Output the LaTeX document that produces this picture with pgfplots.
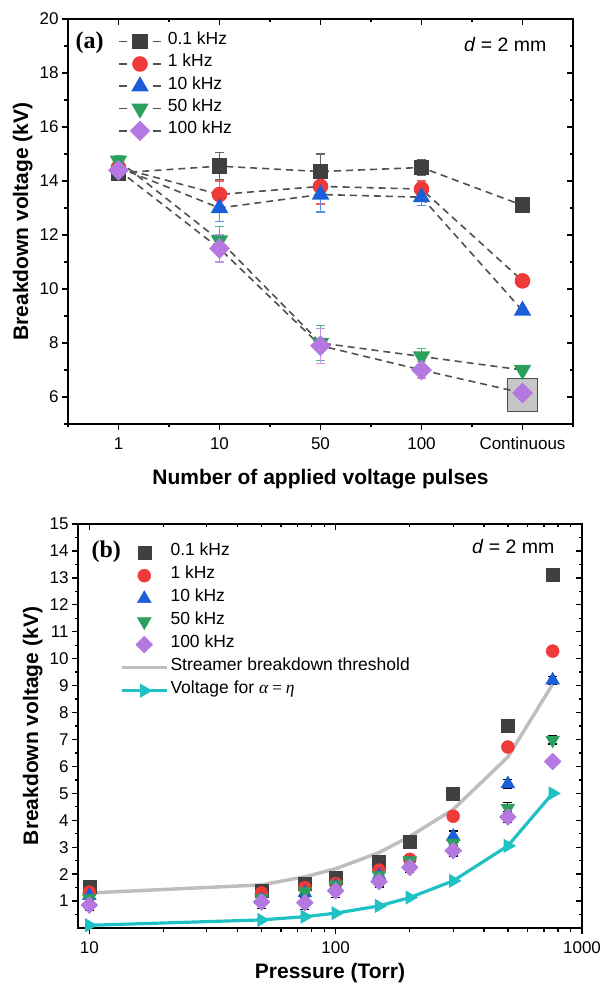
\documentclass[border=0pt]{standalone}
\usepackage{pgfplots}
\pgfplotsset{compat=1.18}
\usepackage{fontspec}
\setmainfont{Liberation Sans}
\newfontfamily\serifb{Liberation Serif}
\definecolor{sqc}{HTML}{404040}
\definecolor{redc}{HTML}{F03A3A}
\definecolor{bluec}{HTML}{1B5FD8}
\definecolor{greenc}{HTML}{2BA05E}
\definecolor{purplec}{HTML}{B478E0}
\definecolor{cyanc}{HTML}{1FC1C4}
\definecolor{streamc}{HTML}{BEBEBE}
\definecolor{dashc}{HTML}{505050}
\pgfplotsset{
  common/.style={scale only axis, clip=false,
    axis line style={line width=1.6pt},
    tick style={black, line width=1.3pt},
    major tick length=6pt, minor tick length=3.5pt,
    ticklabel style={font=\fontsize{17}{20}\selectfont},
    xticklabel style={yshift=-4pt},
    /pgf/number format/assume math mode=true,
    /pgf/number format/1000 sep={},
    label style={font=\bfseries\fontsize{21}{24}\selectfont}},
  aticks/.style={xmin=-0.5, xmax=4.5, ymin=5, ymax=20,
    xtick={0,1,2,3,4}, minor xtick={-0.5,0.5,1.5,2.5,3.5,4.5},
    ytick={6,8,...,20}, minor ytick={5,7,...,19}},
  bticks/.style={xmin=9, xmax=1000, ymin=0, ymax=15,
    xtick={10,100,1000}, log ticks with fixed point,
    ytick={1,2,...,15}, minor ytick={0.5,1.5,...,14.5}},
  dline/.style={draw=dashc, line width=1.6pt, dash pattern=on 7pt off 5pt},
  ebar/.style={error bars/.cd, y dir=both, y explicit,
    error bar style={solid, line width=1.2pt, #1},
    error mark options={solid, rotate=90, mark size=4.5pt, line width=1.2pt, #1}},
}
\begin{document}
\begin{tikzpicture}[x=1pt,y=1pt]
\useasboundingbox (0pt,0pt) rectangle (604pt,990pt);
% ---------------- Panel (a) ----------------
\begin{axis}[common, aticks, at={(68pt,566pt)}, anchor=south west,
  width=505pt, height=405pt,
  xtick pos=left, ytick pos=left, tick align=outside,
  xticklabels={1,10,50,100,Continuous},
  xlabel={Number of applied voltage pulses},
  xlabel style={yshift=-12pt},
  ylabel={Breakdown voltage (kV)},
  legend style={at={(0.099,0.972)}, anchor=north west, draw=none, fill=none,
    inner sep=0pt, row sep=0pt, column sep=6pt,
    font=\fontsize{17.5}{20}\selectfont,
    nodes={inner sep=0pt, text height=14pt, text depth=8.3pt}},
  legend cell align=left,
  legend image code/.code={\draw[mark repeat=2, mark phase=2, dash pattern=on 8pt off 26pt] plot coordinates {(0pt,0pt)(21pt,0pt)(42pt,0pt)};}
]
\draw[fill=gray!45, draw=gray!60!black, line width=0.8pt] (axis cs:3.855,5.45) rectangle (axis cs:4.145,6.7);
\addplot[dline, mark=square*, mark size=7pt, mark options={solid, fill=sqc, draw=sqc}, ebar=sqc!80]
  table[x=x, y=y, y error=e] {
x y e
0 14.3 0.2
1 14.55 0.5
2 14.35 0.65
3 14.5 0.3
4 13.1 0.15
};
\addlegendentry{0.1 kHz}
\addplot[dline, mark=*, mark size=7pt, mark options={solid, fill=redc, draw=redc}, ebar=redc!80]
  table[x=x, y=y, y error=e] {
x y e
0 14.5 0.2
1 13.5 0.5
2 13.8 0.65
3 13.7 0.3
4 10.3 0.1
};
\addlegendentry{1 kHz}
\addplot[dline, mark=triangle*, mark size=8.5pt, mark options={solid, fill=bluec, draw=bluec}, ebar=bluec!70]
  table[x=x, y=y, y error=e] {
x y e
0 14.5 0.2
1 13.0 0.5
2 13.5 0.65
3 13.4 0.3
4 9.2 0.1
};
\addlegendentry{10 kHz}
\addplot[dline, mark=triangle*, mark size=8.5pt, mark options={solid, rotate=180, fill=greenc, draw=greenc}, ebar=greenc!80]
  table[x=x, y=y, y error=e] {
x y e
0 14.75 0.2
1 11.8 0.5
2 8.0 0.65
3 7.5 0.3
4 7.0 0.1
};
\addlegendentry{50 kHz}
\addplot[dline, mark=square*, mark size=6.5pt, mark options={solid, rotate=45, fill=purplec, draw=purplec}, ebar=purplec!80]
  table[x=x, y=y, y error=e] {
x y e
0 14.4 0.2
1 11.5 0.5
2 7.9 0.65
3 7.0 0.3
4 6.15 0.1
};
\addlegendentry{100 kHz}
\end{axis}
\begin{axis}[common, aticks, at={(68pt,566pt)}, anchor=south west,
  width=505pt, height=405pt,
  xtick pos=right, ytick pos=right, tick align=inside,
  xticklabels={}, yticklabels={}, axis line style={draw=none}]
\addplot[draw=none, forget plot] coordinates {(0,10)};
\end{axis}
\node[anchor=west, font=\serifb\bfseries\fontsize{24}{26}\selectfont] at (72pt,947pt) {(a)};
\node[anchor=east, font=\fontsize{19.5}{22}\selectfont] at (550pt,945pt) {\textit{d} = 2 mm};
% ---------------- Panel (b) ----------------
\begin{axis}[xmode=log, common, bticks, at={(78pt,62pt)}, anchor=south west,
  width=504pt, height=404pt,
  xtick pos=left, ytick pos=left, tick align=outside,
  xlabel={Pressure (Torr)},
  xlabel style={yshift=-3pt},
  ylabel={Breakdown voltage (kV)},
  legend style={at={(0.083,0.958)}, anchor=north west, draw=none, fill=none,
    inner sep=0pt, row sep=0pt, column sep=2pt,
    font=\fontsize{17.5}{20}\selectfont,
    nodes={inner sep=0pt, text height=14.5pt, text depth=8.5pt}},
  legend cell align=left,
  legend image code/.code={\draw[mark repeat=2, mark phase=2] plot coordinates {(0pt,0pt)(22.5pt,0pt)(45pt,0pt)};}
]
\addplot[only marks, mark=square*, mark size=6.5pt, mark options={fill=sqc, draw=sqc}, ebar=black]
  table[x=x, y=y, y error=e] {
x y e
10 1.55 0.15
50 1.38 0.2
75 1.65 0.2
100 1.85 0.15
150 2.45 0.15
200 3.2 0.15
300 5.0 0.15
500 7.5 0.12
760 13.1 0.2
};
\addlegendentry{0.1 kHz}
\addplot[only marks, mark=*, mark size=6.5pt, mark options={fill=redc, draw=redc}, ebar=black]
  table[x=x, y=y, y error=e] {
x y e
10 1.33 0.15
50 1.3 0.2
75 1.5 0.2
100 1.65 0.15
150 2.15 0.2
200 2.55 0.15
300 4.15 0.15
500 6.72 0.12
760 10.28 0.15
};
\addlegendentry{1 kHz}
\addplot[only marks, mark=triangle*, mark size=8pt, mark options={fill=bluec, draw=bluec}, ebar=black]
  table[x=x, y=y, y error=e] {
x y e
10 1.2 0.2
50 1.05 0.2
75 1.3 0.25
100 1.55 0.2
150 1.95 0.25
200 2.4 0.2
300 3.4 0.2
500 5.35 0.15
760 9.2 0.15
};
\addlegendentry{10 kHz}
\addplot[only marks, mark=triangle*, mark size=8pt, mark options={rotate=180, fill=greenc, draw=greenc}, ebar=black]
  table[x=x, y=y, y error=e] {
x y e
10 1.1 0.2
50 1.1 0.2
75 1.35 0.2
100 1.6 0.2
150 1.95 0.2
200 2.5 0.2
300 3.15 0.2
500 4.45 0.2
760 6.98 0.15
};
\addlegendentry{50 kHz}
\addplot[only marks, mark=square*, mark size=6pt, mark options={rotate=45, fill=purplec, draw=purplec}, ebar=black]
  table[x=x, y=y, y error=e] {
x y e
10 0.85 0.2
50 0.97 0.25
75 0.94 0.25
100 1.38 0.25
150 1.72 0.2
200 2.25 0.2
300 2.87 0.2
500 4.12 0.2
760 6.18 0.15
};
\addlegendentry{100 kHz}
\addplot[draw=streamc, line width=3.5pt, no marks] table {
10 1.3
50 1.6
75 1.9
100 2.2
150 2.8
200 3.4
300 4.4
500 6.35
760 9.05
};
\addlegendentry{Streamer breakdown threshold}
\addplot[draw=cyanc, line width=3.2pt, mark=triangle*, mark size=5pt, mark options={rotate=-90, fill=cyanc, draw=cyanc}] table {
10 0.1
50 0.3
75 0.42
100 0.55
150 0.82
200 1.13
300 1.75
500 3.05
760 5.0
};
\addlegendentry{Voltage for {\serifb\itshape α\,=\,η}}
\end{axis}
\begin{axis}[xmode=log, common, bticks, at={(78pt,62pt)}, anchor=south west,
  width=504pt, height=404pt,
  xtick pos=right, ytick pos=right, tick align=inside,
  xticklabels={}, yticklabels={}, axis line style={draw=none}]
\addplot[draw=none, forget plot] coordinates {(100,5)};
\end{axis}
\node[anchor=west, font=\serifb\bfseries\fontsize{24}{26}\selectfont] at (88pt,438pt) {(b)};
\node[anchor=east, font=\fontsize{19.5}{22}\selectfont] at (558pt,443pt) {\textit{d} = 2 mm};
\end{tikzpicture}
\end{document}
